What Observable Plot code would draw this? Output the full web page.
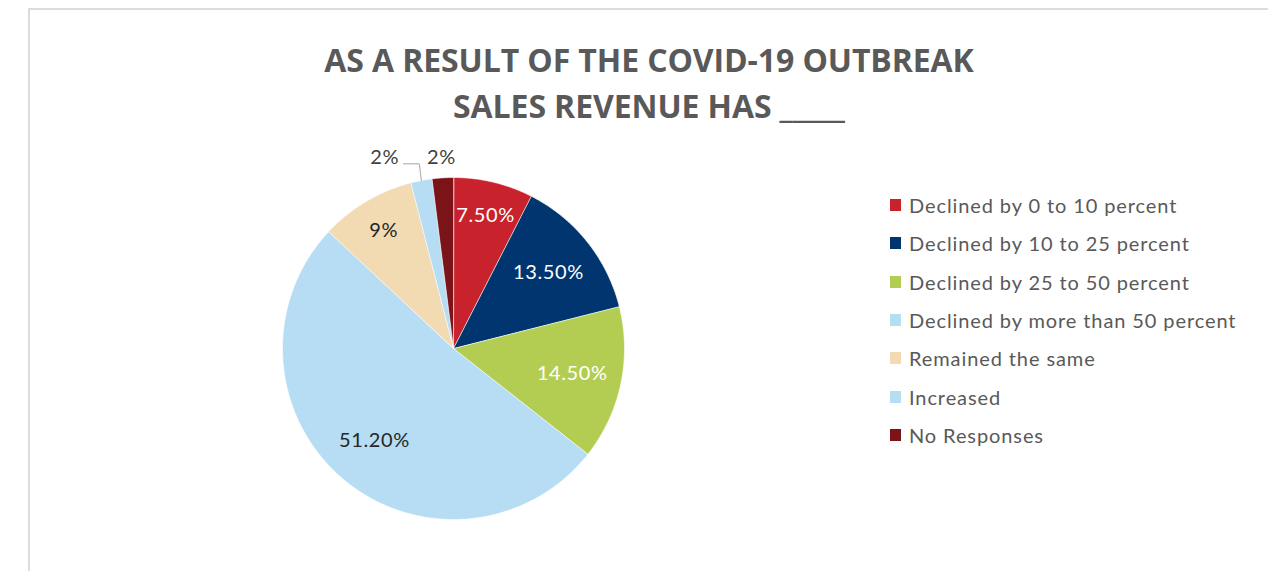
<!DOCTYPE html>
<html><head><meta charset="utf-8">
<script src="https://cdn.jsdelivr.net/npm/d3@7"></script>
<script src="https://cdn.jsdelivr.net/npm/@observablehq/plot@0.6"></script>
<style>
body{margin:0;background:#fff;width:1281px;height:571px;overflow:hidden;position:relative;}
#frame{position:absolute;left:28px;top:8px;width:1238px;height:600px;border-top:2px solid #dcdcdc;border-left:2px solid #dcdcdc;}
#title{position:absolute;left:249px;width:800px;top:37px;text-align:center;font-family:"Open Sans";font-weight:700;font-size:32px;line-height:46px;color:#595959;letter-spacing:-0.1px;white-space:nowrap;}
#chart{position:absolute;left:253px;top:148px;}
#legend{position:absolute;left:890px;top:186px;width:390px;}
.lg-swatches{font-family:Lato,sans-serif !important;font-size:20px !important;letter-spacing:0.9px;color:#595959;margin:0 !important;}
.lg-swatch{height:38.3px;padding:0 !important;}
.lg-swatch > svg{margin-right:8px !important;}
</style></head><body>
<div id="frame"></div>
<div id="title">AS A RESULT OF THE COVID-19 OUTBREAK<br>SALES REVENUE HAS _____</div>
<div id="chart"></div>
<div id="legend"></div>
<script>
const categories = ["Declined by 0 to 10 percent","Declined by 10 to 25 percent","Declined by 25 to 50 percent","Declined by more than 50 percent","Remained the same","Increased","No Responses"];
const values = [7.5, 13.5, 14.5, 51.2, 9, 2, 2];
const valueLabels = ["7.50%","13.50%","14.50%","51.20%","9%","2%","2%"];
const colors = ["#C8232C","#00356F","#B3CD52","#B6DDF3","#F2DAB2","#B6DDF3","#7A1419"];
const darkSlices = ["Declined by 0 to 10 percent","Declined by 10 to 25 percent","Declined by 25 to 50 percent"];

const total = d3.sum(values);
let cum = 0;
const slices = categories.map((c, i) => {
  const a0 = cum / total * 2 * Math.PI;
  cum += values[i];
  const a1 = cum / total * 2 * Math.PI;
  return {cat: c, value: values[i], label: valueLabels[i], a0, a1, mid: (a0 + a1) / 2, i};
});

// polygon outline of each slice (angle measured clockwise from 12 o'clock)
const pts = [];
for (const s of slices) {
  pts.push({cat: s.cat, x: 0, y: 0});
  const n = Math.max(2, Math.ceil((s.a1 - s.a0) / 0.01));
  for (let k = 0; k <= n; k++) {
    const a = s.a0 + (s.a1 - s.a0) * k / n;
    pts.push({cat: s.cat, x: Math.sin(a), y: Math.cos(a)});
  }
}

// label placement
const inside = [], outside = [], leaders = [];
slices.forEach((s, idx) => {
  if (s.value >= 3) {
    const r = s.value < 10 ? 0.8 : 0.71;
    inside.push({...s, x: r * Math.sin(s.mid), y: r * Math.cos(s.mid), dark: darkSlices.includes(s.cat)});
  } else {
    const next = slices[idx + 1];
    const ry = 1.117;
    if (next && next.value < 3) {
      // crowded: shift label left with a leader line
      const ax = Math.sin(s.mid), ay = Math.cos(s.mid);
      const ly = 1.08;
      leaders.push({k: idx, x: ax, y: ay}, {k: idx, x: ax - 0.012, y: ly}, {k: idx, x: ax - 0.105, y: ly});
      outside.push({...s, x: ax - 0.13, y: ry, anchor: "end"});
    } else {
      outside.push({...s, x: ry * Math.sin(s.mid), y: ry, anchor: "middle"});
    }
  }
});

const R = 200 / 171;
const lbl = {fontSize: 20, fontFamily: "Lato", letterSpacing: "0.6px"};
const chart = Plot.plot({
  width: 400, height: 400, margin: 0,
  x: {domain: [-R, R], axis: null},
  y: {domain: [-R, R], axis: null},
  color: {domain: categories, range: colors},
  marks: [
    Plot.line(pts, {x: "x", y: "y", z: "cat", fill: "cat", stroke: "white", strokeWidth: 0.6, curve: "linear-closed"}),
    Plot.line(leaders, {x: "x", y: "y", z: "k", stroke: "#a6a6a6", strokeWidth: 1}),
    Plot.text(inside.filter(d => d.dark), {x: "x", y: "y", text: "label", fill: "white", ...lbl}),
    Plot.text(inside.filter(d => !d.dark), {x: "x", y: "y", text: "label", fill: "#262626", ...lbl}),
    Plot.text(outside.filter(d => d.anchor === "end"), {x: "x", y: "y", text: "label", fill: "#404040", textAnchor: "end", ...lbl}),
    Plot.text(outside.filter(d => d.anchor === "middle"), {x: "x", y: "y", text: "label", fill: "#404040", ...lbl})
  ]
});
chart.style.overflow = "visible";
chart.querySelectorAll("text").forEach(t => t.style.letterSpacing = "0.6px");
document.getElementById("chart").appendChild(chart);

const legend = Plot.legend({
  color: {type: "ordinal", domain: categories, range: colors},
  legend: "swatches", columns: 1, swatchWidth: 11, swatchHeight: 12, className: "lg"
});
document.getElementById("legend").appendChild(legend);
</script>
</body></html>
